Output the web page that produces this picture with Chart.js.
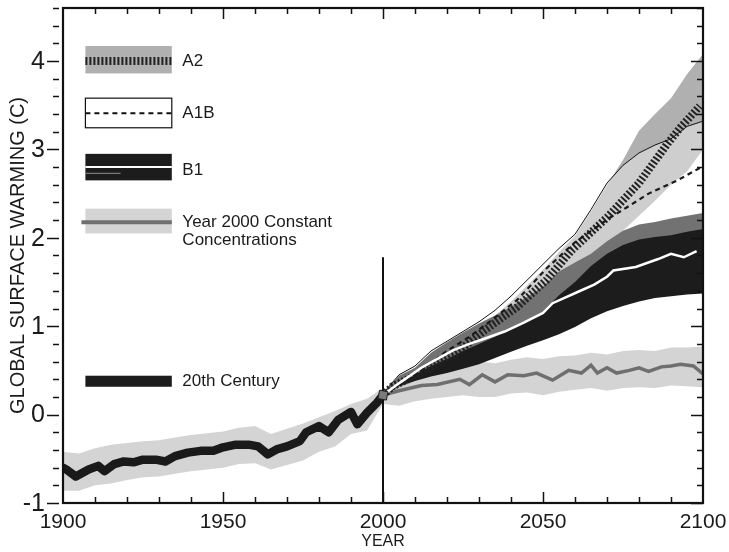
<!DOCTYPE html>
<html><head><meta charset="utf-8">
<script src="https://cdn.jsdelivr.net/npm/chart.js@4.4.1/dist/chart.umd.min.js"></script>
<style>html,body{margin:0;padding:0;background:#fff}#wrap{width:729px;height:552px;position:relative}</style>
</head><body><div id="wrap"><canvas id="c" width="729" height="552"></canvas></div>
<script>
// ---- data ----
const years20 = [1900,1901,1904,1908,1911,1913,1916,1919,1922,1925,1929,1932,1935,1939,1943,1947,1950,1954,1958,1961,1964,1967,1970,1974,1976,1980,1983,1986,1990,1992,1995,1998,2000];
const obs20   = [-0.60,-0.62,-0.70,-0.62,-0.58,-0.64,-0.56,-0.53,-0.54,-0.51,-0.51,-0.53,-0.47,-0.43,-0.41,-0.41,-0.37,-0.34,-0.34,-0.36,-0.45,-0.39,-0.36,-0.30,-0.20,-0.13,-0.20,-0.06,0.03,-0.11,0.02,0.13,0.22];
const years20b = [1900,1905,1910,1915,1920,1925,1930,1935,1940,1945,1950,1955,1960,1965,1970,1975,1980,1985,1990,1995,2000];
const hi20 = [-0.42,-0.44,-0.38,-0.34,-0.32,-0.30,-0.29,-0.26,-0.23,-0.21,-0.19,-0.15,-0.13,-0.22,-0.16,-0.10,-0.03,0.04,0.12,0.18,0.30];
const lo20 = [-0.86,-0.86,-0.80,-0.78,-0.74,-0.71,-0.70,-0.67,-0.64,-0.62,-0.60,-0.56,-0.55,-0.62,-0.57,-0.52,-0.42,-0.36,-0.22,-0.18,0.12];

const yearsF = [2000,2005,2010,2015,2020,2025,2030,2035,2040,2045,2050,2055,2060,2065,2070,2075,2080,2085,2090,2095,2100];
const constHi = [0.25,0.38,0.42,0.50,0.55,0.58,0.60,0.58,0.62,0.65,0.63,0.66,0.67,0.70,0.68,0.72,0.73,0.72,0.76,0.76,0.77];
const constLo = [0.12,0.10,0.15,0.18,0.20,0.22,0.20,0.20,0.24,0.25,0.22,0.26,0.28,0.30,0.27,0.30,0.31,0.30,0.33,0.32,0.31];
const a2Hi  = [0.24,0.42,0.52,0.68,0.80,0.90,1.00,1.12,1.28,1.46,1.64,1.84,2.02,2.30,2.60,2.88,3.21,3.40,3.58,3.85,4.08];
const a2Lo  = [0.20,0.30,0.38,0.45,0.50,0.60,0.70,0.80,0.90,1.00,1.15,1.30,1.50,1.70,1.90,2.08,2.25,2.42,2.60,2.75,3.00];
const b1Hi  = [0.24,0.44,0.53,0.70,0.82,0.93,1.03,1.12,1.22,1.33,1.45,1.62,1.72,1.82,1.96,2.08,2.15,2.18,2.22,2.25,2.28];
const b1Lo  = [0.20,0.32,0.38,0.43,0.47,0.52,0.57,0.64,0.71,0.78,0.84,0.91,0.99,1.09,1.17,1.23,1.28,1.32,1.34,1.36,1.37];
const a1bHi = [0.24,0.45,0.55,0.72,0.83,0.94,1.05,1.18,1.34,1.52,1.70,1.88,2.04,2.32,2.62,2.82,2.96,3.05,3.12,3.26,3.32];
const a1bLo = [0.20,0.33,0.45,0.55,0.63,0.72,0.80,0.88,0.97,1.06,1.17,1.35,1.50,1.68,1.82,1.92,1.98,2.01,2.03,2.07,2.10];

const yearsC = [2000,2005,2012,2017,2024,2027,2031,2035,2039,2044,2048,2053,2058,2062,2065,2067,2070,2073,2077,2080,2083,2087,2090,2093,2097,2100];
const constMean = [0.22,0.27,0.33,0.34,0.40,0.34,0.45,0.37,0.45,0.44,0.47,0.39,0.50,0.47,0.56,0.47,0.53,0.47,0.50,0.53,0.49,0.54,0.55,0.57,0.55,0.46];
const yearsB1 = [2000,2004,2008,2012,2016,2022,2027,2031,2038,2044,2050,2053,2061,2066,2070,2072,2079,2086,2090,2094,2098];
const b1Mean  = [0.22,0.33,0.43,0.53,0.61,0.73,0.80,0.85,0.94,1.04,1.15,1.26,1.39,1.47,1.56,1.63,1.67,1.76,1.82,1.78,1.85];
const yearsA2 = [2000,2003,2014,2024,2032,2042,2051,2059,2070,2080,2089,2093,2099];
const a2Mean  = [0.22,0.32,0.51,0.73,0.96,1.22,1.52,1.86,2.23,2.62,3.07,3.25,3.49];
const yearsA1B = [2000,2010,2020,2027,2034,2042,2051,2060,2071,2076,2083,2092,2099];
const a1bMean  = [0.22,0.45,0.72,0.88,1.07,1.30,1.65,1.95,2.23,2.34,2.50,2.65,2.79];

const markerYear = [2000], markerVal = [0.22];
const divider = {year: 2000, from: -1, to: 1.78};

const yTickValues = [-1,0,1,2,3,4];
const yTickLabels = ['-1','0','1','2','3','4'];
const xTickValues = [1900,1950,2000,2050,2100];
const xTickLabels = ['1900','1950','2000','2050','2100'];
const legendLabels = ['A2','A1B','B1','Year 2000 Constant','Concentrations','20th Century'];

// ---- helpers ----
const pts = (xs, ys) => xs.map((x, i) => ({x, y: ys[i]}));
const C = {lg:'#d4d4d4', mg:'#b0b0b0', blk:'#1c1c1c', a1bFill:'rgba(255,255,255,0.38)', cline:'#6f6f6f'};

const base = {pointRadius:0, pointHoverRadius:0, tension:0};
const ds = [];
function band(xs, lo, hi, color, order, edge){
  const i = ds.length;
  ds.push(Object.assign({}, base, {data: pts(xs, lo), borderWidth:0, fill:false, order}));
  ds.push(Object.assign({}, base, {data: pts(xs, hi), borderWidth: edge ? 1 : 0, borderColor: edge || 'transparent',
    fill:{target:i, above:color, below:color}, order: order - 0.5}));
}
band(years20b, lo20, hi20, C.lg, 100);
band(yearsF, constLo, constHi, C.lg, 98);
band(yearsF, a2Lo, a2Hi, C.mg, 96);
band(yearsF, b1Lo, b1Hi, C.blk, 94);
band(yearsF, a1bLo, a1bHi, C.a1bFill, 92, '#111');
ds.push(Object.assign({}, base, {data: pts(yearsC, constMean), borderColor:C.cline, borderWidth:3.5, fill:false, order:80}));
ds.push(Object.assign({}, base, {data: pts(yearsA2, a2Mean), borderColor:'#222', borderWidth:8, borderDash:[2,2], fill:false, order:78, borderCapStyle:'butt'}));
ds.push(Object.assign({}, base, {data: pts(yearsA1B, a1bMean), borderColor:'#1a1a1a', borderWidth:2.2, borderDash:[5,4], fill:false, order:76}));
ds.push(Object.assign({}, base, {data: pts(yearsB1, b1Mean), borderColor:'#ffffff', borderWidth:2.5, fill:false, order:74}));
ds.push(Object.assign({}, base, {data: pts(years20, obs20), borderColor:'#1a1a1a', borderWidth:8.5, fill:false, order:72, borderJoinStyle:'round', borderCapStyle:'round'}));
ds.push(Object.assign({}, base, {data: [{x:divider.year,y:divider.from},{x:divider.year,y:divider.to}], borderColor:'#111', borderWidth:2, fill:false, order:70}));
ds.push({type:'scatter', data: pts(markerYear, markerVal), pointStyle:'rect', pointRadius:6, pointRotation:10, backgroundColor:'#7a7a7a', borderColor:'#222', borderWidth:1, order:68});

const FONT_N = '"Liberation Sans Narrow", "Liberation Sans", Arial, sans-serif';
const FONT_L = '"Liberation Sans", Arial, sans-serif';

const frameAndTicks = {
  id:'frameAndTicks',
  afterDraw(chart){
    const {ctx, chartArea:a, scales:{x, y}} = chart;
    ctx.save();
    ctx.strokeStyle = '#111';
    ctx.lineWidth = 1.5;
    ctx.beginPath();
    for (let k = 0; k <= 28; k++){
      const v = -1 + k*0.2; const py = Math.round(y.getPixelForValue(v)) + 0.5;
      if (py < a.top) continue;
      const major = Math.abs(v - Math.round(v)) < 1e-6;
      ctx.moveTo(a.left - (major ? 16 : 10), py); ctx.lineTo(a.left - 4, py);
      ctx.moveTo(a.right - (major ? 12 : 6), py); ctx.lineTo(a.right, py);
    }
    for (let yr = 1910; yr < 2100; yr += 10){
      const px = Math.round(x.getPixelForValue(yr)) + 0.5;
      const major = yr % 50 === 0;
      ctx.moveTo(px, a.top); ctx.lineTo(px, a.top + (major ? 11 : 6));
      ctx.moveTo(px, a.bottom); ctx.lineTo(px, a.bottom - (major ? 11 : 6));
    }
    ctx.stroke();
    ctx.lineWidth = 2.2;
    ctx.strokeRect(a.left, a.top, a.right - a.left, a.bottom - a.top);
    // tick labels
    ctx.fillStyle = '#1a1a1a';
    ctx.font = '25px ' + FONT_N; ctx.textAlign = 'right'; ctx.textBaseline = 'middle';
    yTickValues.forEach((v, i) => ctx.fillText(yTickLabels[i], a.left - 18, y.getPixelForValue(v) + 1));
    ctx.font = '21px ' + FONT_N; ctx.textAlign = 'center'; ctx.textBaseline = 'top';
    xTickValues.forEach((v, i) => ctx.fillText(xTickLabels[i], x.getPixelForValue(v), a.bottom + 9));
    ctx.restore();
  }
};

const legendPlugin = {
  id:'legendPlugin',
  afterDraw(chart){
    const {ctx, scales:{x, y}} = chart;
    const x0 = x.getPixelForValue(1907), x1 = x.getPixelForValue(1934), tx = x.getPixelForValue(1937.3);
    const Y = v => y.getPixelForValue(v);
    ctx.save();
    // A2
    ctx.fillStyle = C.mg; ctx.fillRect(x0, Y(4.17), x1-x0, Y(3.86)-Y(4.17));
    ctx.strokeStyle = '#222'; ctx.lineWidth = 8; ctx.setLineDash([2,2]);
    ctx.beginPath(); ctx.moveTo(x0, Y(4.0)); ctx.lineTo(x1, Y(4.0)); ctx.stroke();
    ctx.setLineDash([]);
    // A1B
    ctx.fillStyle = '#fff'; ctx.fillRect(x0, Y(3.58), x1-x0, Y(3.245)-Y(3.58));
    ctx.strokeStyle = '#111'; ctx.lineWidth = 1.2;
    ctx.strokeRect(x0, Y(3.58), x1-x0, Y(3.245)-Y(3.58));
    ctx.lineWidth = 2; ctx.setLineDash([5,4]);
    ctx.beginPath(); ctx.moveTo(x0, Y(3.41)); ctx.lineTo(x1, Y(3.41)); ctx.stroke();
    ctx.setLineDash([]);
    // B1
    ctx.fillStyle = C.blk; ctx.fillRect(x0, Y(2.95), x1-x0, Y(2.65)-Y(2.95));
    ctx.strokeStyle = '#fff'; ctx.lineWidth = 2;
    ctx.beginPath(); ctx.moveTo(x0, Y(2.8)); ctx.lineTo(x1, Y(2.8)); ctx.stroke();
    ctx.strokeStyle = '#777'; ctx.lineWidth = 1.2;
    ctx.beginPath(); ctx.moveTo(x0, Y(2.73)); ctx.lineTo(x.getPixelForValue(1918), Y(2.73)); ctx.stroke();
    // Constant
    ctx.fillStyle = C.lg; ctx.fillRect(x0, Y(2.33), x1-x0, Y(2.05)-Y(2.33));
    ctx.strokeStyle = C.cline; ctx.lineWidth = 4;
    ctx.beginPath(); ctx.moveTo(x0-4, Y(2.175)); ctx.lineTo(x1, Y(2.175)); ctx.stroke();
    // 20th century
    ctx.fillStyle = C.blk; ctx.fillRect(x0, Y(0.44), x1-x0, Y(0.315)-Y(0.44));
    // labels
    ctx.fillStyle = '#1a1a1a'; ctx.font = '17px ' + FONT_L; ctx.textBaseline = 'middle'; ctx.textAlign = 'left';
    ctx.fillText(legendLabels[0], tx, Y(4.0));
    ctx.fillText(legendLabels[1], tx, Y(3.41));
    ctx.fillText(legendLabels[2], tx, Y(2.76));
    ctx.fillText(legendLabels[3], tx, Y(2.175));
    ctx.fillText(legendLabels[4], tx, Y(1.97));
    ctx.fillText(legendLabels[5], tx, Y(0.38));
    ctx.restore();
  }
};

new Chart(document.getElementById('c'), {
  type:'line',
  data:{datasets: ds},
  options:{
    responsive:false, animation:false,
    layout:{padding:{left:0, right:26, top:8, bottom:0}},
    plugins:{legend:{display:false}, tooltip:{enabled:false}},
    scales:{
      x:{type:'linear', min:1900, max:2100,
        afterFit(s){ s.height = 49; },
        grid:{display:false, drawTicks:false}, border:{display:false},
        ticks:{display:false},
        title:{display:true, text:'YEAR', color:'#1a1a1a', font:{family:FONT_N, size:16}, padding:{top:0,bottom:1}}
      },
      y:{type:'linear', min:-1, max:4.6,
        afterFit(s){ s.width = 63; },
        grid:{display:false, drawTicks:false}, border:{display:false},
        ticks:{display:false},
        title:{display:true, text:'GLOBAL SURFACE WARMING (C)', color:'#1a1a1a', font:{family:FONT_N, size:20}, padding:{top:6,bottom:0}}
      }
    }
  },
  plugins:[frameAndTicks, legendPlugin]
});
</script></body></html>
